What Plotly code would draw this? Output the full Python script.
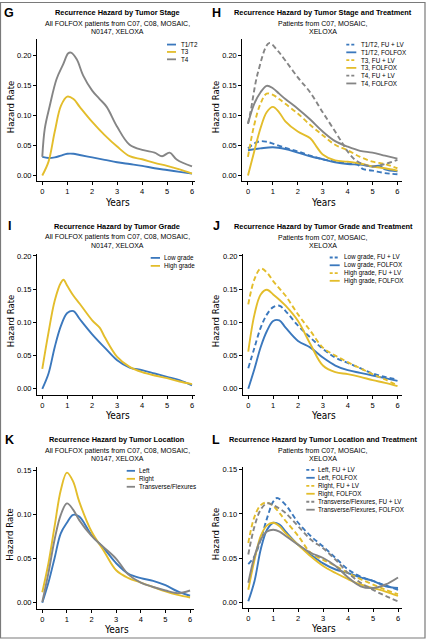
import plotly.graph_objects as go

W, H = 426, 639
BLUE = "#3b78bd"
GOLD = "#e3bd2b"
GRAY = "#858585"
FONT = "Liberation Sans, Arial, sans-serif"
NARROW = "Liberation Sans Narrow, DejaVu Sans Condensed, Liberation Sans, Arial, sans-serif"

grid = [0, 0.25, 0.5, 0.75, 1, 1.25, 1.5, 2, 2.5, 3, 3.5, 4, 4.5, 5, 5.5, 6]

# ---------------- Panel G ----------------
g_t12 = [0.031, 0.029, 0.030, 0.033, 0.036, 0.036, 0.034, 0.030, 0.026, 0.022, 0.019, 0.016, 0.012, 0.009, 0.006, 0.003]
g_t3 = [0.000, 0.023, 0.073, 0.116, 0.131, 0.127, 0.114, 0.089, 0.067, 0.048, 0.032, 0.027, 0.021, 0.016, 0.010, 0.003]
g_t4_x = [0, 0.1, 0.3, 0.57, 0.84, 1.04, 1.15, 1.38, 1.64, 2.0, 2.3, 2.58, 3.0, 3.5, 4.05, 4.5, 4.8, 5.1, 5.4, 6.0]
g_t4 = [0.031, 0.078, 0.116, 0.160, 0.185, 0.203, 0.204, 0.193, 0.166, 0.141, 0.127, 0.114, 0.081, 0.051, 0.042, 0.038, 0.032, 0.038, 0.026, 0.015]

# ---------------- Panel H ----------------
h_t12_fu_x = [0, 0.25, 0.5, 0.75, 1, 1.5, 2, 2.5, 3, 3.5, 4, 4.4, 4.6, 5, 5.5, 6]
h_t12_fu = [0.045, 0.053, 0.057, 0.056, 0.053, 0.046, 0.040, 0.033, 0.027, 0.023, 0.020, 0.018, 0.011, 0.008, 0.004, 0.002]
h_t12_fo_x = [0, 0.5, 1, 1.5, 2, 2.5, 3, 3.5, 4, 4.5, 5, 5.3, 5.5, 6]
h_t12_fo = [0.042, 0.045, 0.047, 0.044, 0.038, 0.032, 0.027, 0.022, 0.019, 0.018, 0.015, 0.016, 0.010, 0.007]
h_t3_fu = [0.031, 0.084, 0.119, 0.136, 0.134, 0.127, 0.119, 0.103, 0.084, 0.067, 0.051, 0.042, 0.031, 0.023, 0.019, 0.012]
h_t3_fo_x = [0, 0.25, 0.5, 0.75, 1, 1.25, 1.5, 2, 2.5, 2.75, 3, 3.5, 4, 4.5, 5, 5.5, 6]
h_t3_fo = [0.000, 0.040, 0.078, 0.105, 0.114, 0.105, 0.090, 0.073, 0.062, 0.048, 0.035, 0.025, 0.023, 0.020, 0.015, 0.012, 0.008]
h_t4_fu_x = [0, 0.1, 0.4, 0.85, 1.2, 1.5, 2, 2.5, 3, 3.5, 3.8, 4, 4.3, 4.6, 5, 5.5, 6]
h_t4_fu = [0.086, 0.105, 0.171, 0.220, 0.207, 0.191, 0.163, 0.138, 0.105, 0.073, 0.053, 0.040, 0.026, 0.019, 0.015, 0.019, 0.026]
h_t4_fo = [0.086, 0.119, 0.138, 0.149, 0.145, 0.136, 0.127, 0.111, 0.093, 0.073, 0.057, 0.048, 0.041, 0.038, 0.033, 0.028]

# ---------------- Panel I ----------------
i_low = [0.000, 0.023, 0.063, 0.095, 0.114, 0.117, 0.105, 0.082, 0.062, 0.043, 0.032, 0.028, 0.023, 0.018, 0.013, 0.005]
i_high_x = [0, 0.25, 0.5, 0.75, 0.85, 1, 1.25, 1.5, 2, 2.3, 2.5, 3, 3.5, 4, 4.5, 5, 5.5, 6]
i_high = [0.030, 0.085, 0.133, 0.160, 0.164, 0.155, 0.140, 0.128, 0.103, 0.092, 0.078, 0.048, 0.033, 0.025, 0.020, 0.016, 0.011, 0.007]

# ---------------- Panel J ----------------
j_low_fu = [0.031, 0.062, 0.092, 0.112, 0.123, 0.125, 0.117, 0.095, 0.077, 0.060, 0.047, 0.039, 0.031, 0.023, 0.018, 0.014]
j_low_fo = [0.000, 0.030, 0.063, 0.087, 0.102, 0.103, 0.092, 0.072, 0.062, 0.047, 0.035, 0.028, 0.024, 0.020, 0.016, 0.012]
j_high_fu = [0.127, 0.165, 0.181, 0.175, 0.162, 0.151, 0.140, 0.112, 0.087, 0.062, 0.050, 0.040, 0.031, 0.022, 0.014, 0.005]
j_high_fo = [0.056, 0.112, 0.142, 0.149, 0.142, 0.134, 0.125, 0.102, 0.067, 0.035, 0.025, 0.022, 0.018, 0.013, 0.009, 0.004]

# ---------------- Panel K ----------------
k_left = [0.000, 0.023, 0.051, 0.079, 0.091, 0.100, 0.098, 0.077, 0.062, 0.045, 0.033, 0.028, 0.025, 0.020, 0.013, 0.008]
k_right = [0.012, 0.045, 0.087, 0.128, 0.148, 0.138, 0.115, 0.081, 0.059, 0.037, 0.028, 0.023, 0.018, 0.013, 0.009, 0.006]
k_trans = [0.001, 0.034, 0.072, 0.100, 0.113, 0.106, 0.094, 0.076, 0.063, 0.050, 0.032, 0.023, 0.018, 0.014, 0.011, 0.014]

# ---------------- Panel L ----------------
l_left_fu_x = [0, 0.25, 0.5, 0.75, 1, 1.15, 1.5, 2, 2.5, 3, 3.5, 4, 4.5, 5, 5.5, 6]
l_left_fu = [0.043, 0.052, 0.071, 0.095, 0.114, 0.118, 0.110, 0.090, 0.075, 0.063, 0.050, 0.037, 0.029, 0.024, 0.019, 0.014]
l_left_fo = [0.001, 0.024, 0.060, 0.082, 0.090, 0.088, 0.080, 0.065, 0.054, 0.044, 0.037, 0.033, 0.028, 0.024, 0.018, 0.016]
l_right_fu = [0.067, 0.097, 0.110, 0.113, 0.109, 0.101, 0.092, 0.075, 0.056, 0.048, 0.041, 0.033, 0.026, 0.020, 0.014, 0.009]
l_right_fo = [0.014, 0.048, 0.075, 0.087, 0.090, 0.086, 0.078, 0.065, 0.052, 0.041, 0.033, 0.026, 0.020, 0.016, 0.012, 0.007]
l_trans_fu = [0.054, 0.086, 0.105, 0.112, 0.110, 0.106, 0.101, 0.086, 0.071, 0.061, 0.048, 0.033, 0.022, 0.014, 0.007, 0.001]
l_trans_fo = [0.022, 0.052, 0.071, 0.080, 0.082, 0.080, 0.075, 0.065, 0.056, 0.050, 0.041, 0.028, 0.018, 0.016, 0.020, 0.028]

x_ticks = [0, 1, 2, 3, 4, 5, 6]

panels = [
    dict(letter="G", title="Recurrence Hazard by Tumor Stage",
         sub=["All FOLFOX patients from C07, C08, MOSAIC,", "N0147, XELOXA"],
         box=(37, 195, 37, 180), xr=[-0.212, 6.12], yr=[-0.0099, 0.227],
         yt=[0, 0.05, 0.10, 0.15, 0.20], cx=117, ty=11,
         series=[(grid, g_t12, BLUE, "solid", "T1/T2"),
                 (grid, g_t3, GOLD, "solid", "T3"),
                 (g_t4_x, g_t4, GRAY, "solid", "T4")],
         leg=(167, 176, 179, 42.7, 7.4)),
    dict(letter="H", title="Recurrence Hazard by Tumor Stage and Treatment",
         sub=["Patients from C07, MOSAIC,", "XELOXA"],
         box=(242.3, 402, 37, 180), xr=[-0.228, 6.184], yr=[-0.0099, 0.227],
         yt=[0, 0.05, 0.10, 0.15, 0.20], cx=323, ty=11,
         series=[(h_t12_fu_x, h_t12_fu, BLUE, "dash", "T1/T2, FU + LV"),
                 (h_t12_fo_x, h_t12_fo, BLUE, "solid", "T1/T2, FOLFOX"),
                 (grid, h_t3_fu, GOLD, "dash", "T3, FU + LV"),
                 (h_t3_fo_x, h_t3_fo, GOLD, "solid", "T3, FOLFOX"),
                 (h_t4_fu_x, h_t4_fu, GRAY, "dash", "T4, FU + LV"),
                 (grid, h_t4_fo, GRAY, "solid", "T4, FOLFOX")],
         leg=(346.3, 356.3, 358.7, 42.7, 7.8)),
    dict(letter="I", title="Recurrence Hazard by Tumor Grade",
         sub=["All FOLFOX patients from C07, C08, MOSAIC,", "N0147, XELOXA"],
         box=(37, 195, 252.3, 394), xr=[-0.212, 6.12], yr=[-0.009, 0.2036],
         yt=[0, 0.05, 0.10, 0.15, 0.20], cx=117, ty=225,
         series=[(grid, i_low, BLUE, "solid", "Low grade"),
                 (i_high_x, i_high, GOLD, "solid", "High grade")],
         leg=(150.7, 160, 162, 256.7, 8.0)),
    dict(letter="J", title="Recurrence Hazard by Tumor Grade and Treatment",
         sub=["Patients from C07, MOSAIC,", "XELOXA"],
         box=(243, 402, 252.3, 394), xr=[-0.212, 6.18], yr=[-0.009, 0.2036],
         yt=[0, 0.05, 0.10, 0.15, 0.20], cx=323, ty=225,
         series=[(grid, j_low_fu, BLUE, "dash", "Low grade, FU + LV"),
                 (grid, j_low_fo, BLUE, "solid", "Low grade, FOLFOX"),
                 (grid, j_high_fu, GOLD, "dash", "High grade, FU + LV"),
                 (grid, j_high_fo, GOLD, "solid", "High grade, FOLFOX")],
         leg=(329.7, 339.7, 341.7, 256.3, 7.8)),
    dict(letter="K", title="Recurrence Hazard by Tumor Location",
         sub=["All FOLFOX patients from C07, C08, MOSAIC,", "N0147, XELOXA"],
         box=(37, 194, 466, 608.7), xr=[-0.215, 6.16], yr=[-0.0068, 0.1549],
         yt=[0, 0.05, 0.10, 0.15], cx=117, ty=439,
         series=[(grid, k_left, BLUE, "solid", "Left"),
                 (grid, k_right, GOLD, "solid", "Right"),
                 (grid, k_trans, GRAY, "solid", "Transverse/Flexures")],
         leg=(126.7, 135, 136.7, 470.3, 8.0)),
    dict(letter="L", title="Recurrence Hazard by Tumor Location and Treatment",
         sub=["Patients from C07, MOSAIC,", "XELOXA"],
         box=(242.7, 402, 466, 607.7), xr=[-0.224, 6.16], yr=[-0.0064, 0.1537],
         yt=[0, 0.05, 0.10, 0.15], cx=323, ty=439,
         series=[(l_left_fu_x, l_left_fu, BLUE, "dash", "Left, FU + LV"),
                 (grid, l_left_fo, BLUE, "solid", "Left, FOLFOX"),
                 (grid, l_right_fu, GOLD, "dash", "Right, FU + LV"),
                 (grid, l_right_fo, GOLD, "solid", "Right, FOLFOX"),
                 (grid, l_trans_fu, GRAY, "dash", "Transverse/Flexures, FU + LV"),
                 (grid, l_trans_fo, GRAY, "solid", "Transverse/Flexures, FOLFOX")],
         leg=(306.3, 314.7, 316.3, 469.3, 8.0)),
]


def px(x):
    return x / W


def py(y):
    return 1 - y / H


DASH = "5px,3px"
fig = go.Figure()
annotations = []
shapes = []
layout = {}

for i, p in enumerate(panels):
    n = i + 1
    xa = "x" if n == 1 else f"x{n}"
    ya = "y" if n == 1 else f"y{n}"
    l, r, t, b = p["box"]
    for xs, ys, col, dash, name in p["series"]:
        fig.add_trace(go.Scatter(
            x=xs, y=ys, mode="lines", name=name, showlegend=False,
            line=dict(color=col, width=1.9, shape="spline", smoothing=1.0,
                      dash=DASH if dash == "dash" else "solid"),
            xaxis=xa, yaxis=ya, hoverinfo="skip"))
    axis_common = dict(showgrid=False, zeroline=False, showline=True, linecolor="black",
                       linewidth=1, ticks="outside", ticklen=3, tickwidth=1, tickcolor="black",
                       tickfont=dict(family=FONT, size=7.5, color="black"))
    layout["xaxis" if n == 1 else f"xaxis{n}"] = dict(
        domain=[px(l), px(r)], range=p["xr"], anchor=ya, tickvals=x_ticks,
        ticktext=[str(v) for v in x_ticks], **axis_common)
    layout["yaxis" if n == 1 else f"yaxis{n}"] = dict(
        domain=[py(b), py(t)], range=p["yr"], anchor=xa, tickvals=p["yt"],
        ticktext=[f"{v:.2f}" for v in p["yt"]], **axis_common)

    lx = 9 if p["letter"] in "GIK" else 216
    annotations.append(dict(text=f"<b>{p['letter']}</b>", x=px(lx), y=py(p["ty"]),
                            xref="paper", yref="paper", showarrow=False, xanchor="center",
                            yanchor="middle", font=dict(family=FONT, size=12.5, color="black")))
    annotations.append(dict(text=f"<b>{p['title']}</b>", x=px(p["cx"]), y=py(p["ty"]),
                            xref="paper", yref="paper", showarrow=False, xanchor="center",
                            yanchor="middle", font=dict(family=FONT, size=7.4, color="black")))
    for k, s in enumerate(p["sub"]):
        annotations.append(dict(text=s, x=px(p["cx"]), y=py(p["ty"] + 11 + 8 * k),
                                xref="paper", yref="paper", showarrow=False, xanchor="center",
                                yanchor="middle", font=dict(family=FONT, size=7, color="black")))
    annotations.append(dict(text="Years", x=px((l + r) / 2 + 1), y=py(b + 21),
                            xref="paper", yref="paper", showarrow=False, xanchor="center",
                            yanchor="middle", font=dict(family=NARROW, size=10, color="black")))
    hx = 10 if p["letter"] in "GIK" else 215
    annotations.append(dict(text="Hazard Rate", x=px(hx), y=py((t + b) / 2 - 3), textangle=-90,
                            xref="paper", yref="paper", showarrow=False, xanchor="center",
                            yanchor="middle", font=dict(family=NARROW, size=9.5, color="black")))
    x0, x1, tx, y0, dy = p["leg"]
    for k, (xs, ys, col, dash, name) in enumerate(p["series"]):
        yy = y0 + dy * k
        shapes.append(dict(type="line", xref="paper", yref="paper", x0=px(x0), x1=px(x1),
                           y0=py(yy), y1=py(yy),
                           line=dict(color=col, width=1.8, dash=("3px,2px" if dash == "dash" else "solid"))))
        annotations.append(dict(text=name, x=px(tx), y=py(yy), xref="paper", yref="paper",
                                showarrow=False, xanchor="left", yanchor="middle",
                                font=dict(family=FONT, size=6.3, color="black")))

shapes.append(dict(type="rect", xref="paper", yref="paper", x0=px(0.5), x1=px(425), y0=py(638), y1=py(0.5),
                   line=dict(color="#7a7a7a", width=1.2)))

fig.update_layout(width=W, height=H, margin=dict(l=0, r=0, t=0, b=0),
                  paper_bgcolor="white", plot_bgcolor="white", showlegend=False,
                  hovermode=False,
                  annotations=annotations, shapes=shapes, **layout)

fig.write_html("out.html", config={"displayModeBar": False, "staticPlot": True},
               post_script="document.body.style.margin='0';document.body.style.padding='0';"
                           "document.documentElement.style.overflow='hidden';")
